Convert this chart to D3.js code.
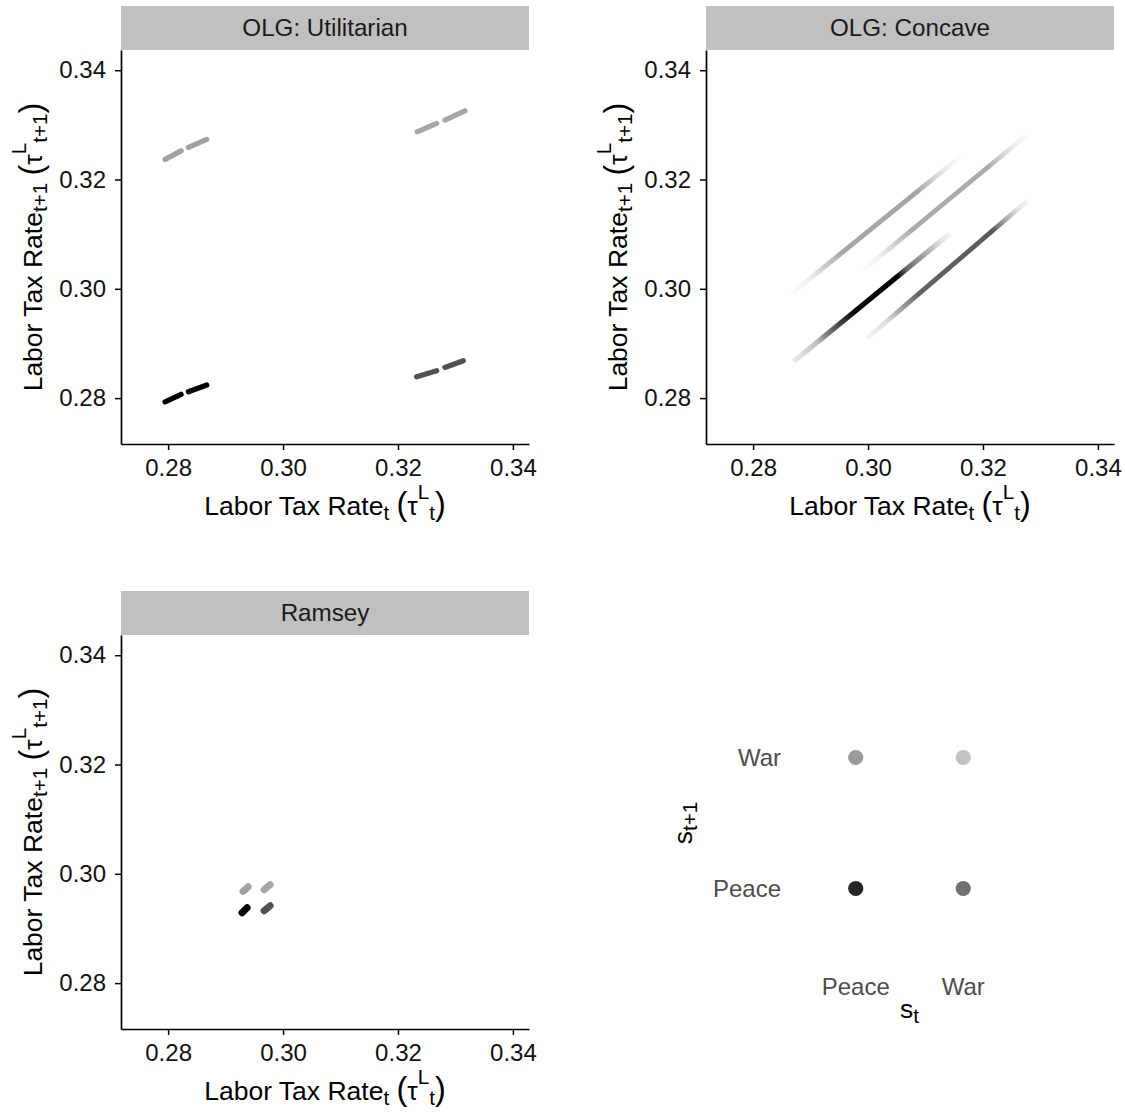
<!DOCTYPE html>
<html><head><meta charset="utf-8">
<script src="https://cdn.jsdelivr.net/npm/d3@7"></script>
<style>
body{margin:0;background:#fff}
svg{display:block}
text{font-family:"Liberation Sans",Arial,Helvetica,sans-serif;white-space:pre}
</style>
</head><body><script>
// ---------------- data ----------------
const states = ["Peace", "War"];
const transitionKeys = ["PP", "PW", "WP", "WW"];           // s_t -> s_t+1
const transitionFrom = {PP: "Peace", PW: "Peace", WP: "War", WW: "War"};
const transitionTo   = {PP: "Peace", PW: "War",   WP: "Peace", WW: "War"};
const panelTitles = ["OLG: Utilitarian", "OLG: Concave", "Ramsey"];
const xTickValues = [0.28, 0.30, 0.32, 0.34];
const yTickValues = [0.28, 0.30, 0.32, 0.34];
const xDomain = [0.2718, 0.3428];
const yDomain = [0.2716, 0.3437];

// OLG utilitarian: short dashes of simulated (tau_t, tau_t+1) pairs
const utilitarianKey = ["PP", "PP", "PW", "PW", "WW", "WW", "WP", "WP"];
const utilitarianX1 = [0.27948, 0.28353, 0.27948, 0.28353, 0.32336, 0.32817, 0.32325, 0.32817];
const utilitarianY1 = [0.27932, 0.28115, 0.32368, 0.32587, 0.32873, 0.33087, 0.28390, 0.28562];
const utilitarianX2 = [0.28226, 0.28673, 0.28226, 0.28673, 0.32673, 0.33165, 0.32673, 0.33136];
const utilitarianY2 = [0.28068, 0.28238, 0.32525, 0.32734, 0.33027, 0.33257, 0.28500, 0.28683];

// OLG concave: long bands with a density profile along them
const concaveKey = ["PW", "WW", "PP", "WP"];
const concaveX1 = [0.28673, 0.29918, 0.28701, 0.29977];
const concaveY1 = [0.29916, 0.30342, 0.28664, 0.29092];
const concaveX2 = [0.31600, 0.32760, 0.31426, 0.32788];
const concaveY2 = [0.32415, 0.32813, 0.31014, 0.31623];
const concaveDensity = [
  [[0,0.05],[0.1,0.15],[0.2,0.5],[0.3,0.85],[0.75,0.85],[0.85,0.4],[0.93,0.15],[1,0.04]],
  [[0,0.05],[0.1,0.15],[0.2,0.5],[0.3,0.85],[0.76,0.85],[0.86,0.4],[0.94,0.15],[1,0.04]],
  [[0,0.08],[0.15,0.25],[0.21,0.5],[0.34,0.85],[0.4,1],[0.66,1],[0.72,0.6],[0.85,0.32],[0.94,0.12],[1,0.04]],
  [[0,0.05],[0.12,0.18],[0.2,0.45],[0.32,0.85],[0.78,0.9],[0.86,0.45],[0.94,0.15],[1,0.04]]
];

// Ramsey: tiny clusters
const ramseyKey = ["PP", "PW", "WW", "WP"];
const ramseyX1 = [0.29287, 0.29304, 0.29670, 0.29670];
const ramseyY1 = [0.29286, 0.29680, 0.29707, 0.29323];
const ramseyX2 = [0.29374, 0.29391, 0.29774, 0.29774];
const ramseyY2 = [0.29378, 0.29762, 0.29799, 0.29414];

// ---------------- styles ----------------
const markColor    = {PP: "#000000", PW: "#a2a2a2", WP: "#525252", WW: "#a6a6a6"};
const concaveColor = {PP: "#000000", PW: "#969696", WP: "#474747", WW: "#9c9c9c"};
const legendColor  = {PP: "#262626", PW: "#9a9a9a", WP: "#707070", WW: "#c3c3c3"};
const FONT_TICK = 24, FONT_TITLE = 26.5, FONT_STRIP = 24.2, FONT_LEG = 24;

const W = 1125, H = 1114;
const svg = d3.select("body").append("svg").attr("width", W).attr("height", H);
const defs = svg.append("defs");

const PW_ = 408, PH_ = 394;
const panels = [
  {left: 121, top: 50},
  {left: 706, top: 50},
  {left: 121, top: 635}
];

function rich(sel, parts, size) {
  const small = size * 0.78;
  let cur = 0;
  parts.forEach(p => {
    const target = p.pos === "sub" ? size * 0.2 : p.pos === "sup" ? -size * 0.62 : 0;
    const fs = p.pos ? small : p.big ? size * 1.22 : size;
    sel.append("tspan").attr("dy", target - cur).style("font-size", fs + "px").text(p.t);
    cur = target;
  });
}
const xTitleParts = [{t: "Labor Tax Rate"}, {t: "t", pos: "sub"}, {t: " "}, {t: "(", big: true}, {t: "τ"}, {t: "L", pos: "sup"}, {t: "t", pos: "sub"}, {t: ")", big: true}];
const yTitleParts = [{t: "Labor Tax Rate"}, {t: "t+1", pos: "sub"}, {t: " "}, {t: "(", big: true}, {t: "τ"}, {t: "L", pos: "sup"}, {t: "t+1", pos: "sub"}, {t: ")", big: true}];

panels.forEach((p, i) => {
  const g = svg.append("g").attr("transform", `translate(${p.left},${p.top})`);
  const x = d3.scaleLinear().domain(xDomain).range([0, PW_]);
  const y = d3.scaleLinear().domain(yDomain).range([PH_, 0]);
  p.x = x; p.y = y; p.g = g;

  // strip
  g.append("rect").attr("x", 0).attr("y", -44).attr("width", PW_).attr("height", 44).attr("fill", "#c0c0c0");
  g.append("text").attr("x", PW_ / 2).attr("y", -14).attr("text-anchor", "middle")
    .style("font-size", FONT_STRIP + "px").attr("fill", "#1a1a1a").text(panelTitles[i]);

  // axes
  const ax = g.append("g").attr("transform", `translate(0,${PH_})`)
    .call(d3.axisBottom(x).tickValues(xTickValues).tickFormat(d3.format(".2f")).tickSize(6).tickSizeOuter(0).tickPadding(9));
  const ay = g.append("g")
    .call(d3.axisLeft(y).tickValues(yTickValues).tickFormat(d3.format(".2f")).tickSize(6).tickSizeOuter(0).tickPadding(9));
  [ax, ay].forEach(a => {
    a.select(".domain").attr("stroke", "#000").attr("stroke-width", 1.7);
    a.selectAll(".tick line").attr("stroke", "#000").attr("stroke-width", 1.5);
    a.selectAll(".tick text").attr("fill", "#111").style("font-size", FONT_TICK + "px").style("font-family", '"Liberation Sans",Arial,sans-serif');
  });

  // titles
  const xt = g.append("text").attr("x", PW_ / 2).attr("y", PH_ + 71).attr("text-anchor", "middle").attr("fill", "#000");
  rich(xt, xTitleParts, FONT_TITLE);
  const yt = g.append("text").attr("transform", `translate(-79,${PH_ / 2}) rotate(-90)`).attr("text-anchor", "middle").attr("fill", "#000");
  rich(yt, yTitleParts, FONT_TITLE);
});

// ---- Panel 1: utilitarian dashes
{
  const {g, x, y} = panels[0];
  g.selectAll("line.mark").data(d3.range(utilitarianKey.length)).join("line").attr("class", "mark")
    .attr("x1", i => x(utilitarianX1[i])).attr("y1", i => y(utilitarianY1[i]))
    .attr("x2", i => x(utilitarianX2[i])).attr("y2", i => y(utilitarianY2[i]))
    .attr("stroke", i => markColor[utilitarianKey[i]]).attr("stroke-width", 5.3).attr("stroke-linecap", "round");
}

// ---- Panel 2: concave bands (drawn in root coordinates so gradients line up)
{
  const {x, y, left, top} = panels[1];
  const X = v => x(v) + left, Y = v => y(v) + top;
  concaveKey.forEach((k, i) => {
    const gr = defs.append("linearGradient").attr("id", "grad" + i).attr("gradientUnits", "userSpaceOnUse")
      .attr("x1", X(concaveX1[i])).attr("y1", Y(concaveY1[i]))
      .attr("x2", X(concaveX2[i])).attr("y2", Y(concaveY2[i]));
    concaveDensity[i].forEach(([t, d]) => {
      gr.append("stop").attr("offset", t).attr("stop-color", concaveColor[k]).attr("stop-opacity", d);
    });
  });
  svg.append("g").selectAll("line").data(d3.range(concaveKey.length)).join("line")
    .attr("x1", i => X(concaveX1[i])).attr("y1", i => Y(concaveY1[i]))
    .attr("x2", i => X(concaveX2[i])).attr("y2", i => Y(concaveY2[i]))
    .attr("stroke", i => `url(#grad${i})`).attr("stroke-width", i => concaveKey[i] === "PP" ? 5.2 : 4.8)
    .attr("stroke-linecap", "butt");
}

// ---- Panel 3: Ramsey
{
  const {g, x, y} = panels[2];
  g.selectAll("line.mark").data(d3.range(ramseyKey.length)).join("line").attr("class", "mark")
    .attr("x1", i => x(ramseyX1[i])).attr("y1", i => y(ramseyY1[i]))
    .attr("x2", i => x(ramseyX2[i])).attr("y2", i => y(ramseyY2[i]))
    .attr("stroke", i => markColor[ramseyKey[i]]).attr("stroke-width", 7).attr("stroke-linecap", "round");
}

// ---- Legend plot (bottom right)
{
  const lx = d3.scalePoint().domain(states).range([802, 1017]).padding(0.5);
  const ly = d3.scalePoint().domain(states).range([954, 692]).padding(0.5);
  const lg = svg.append("g");
  lg.selectAll("circle").data(transitionKeys).join("circle")
    .attr("cx", k => lx(transitionFrom[k])).attr("cy", k => ly(transitionTo[k]))
    .attr("r", 7.6).attr("fill", k => legendColor[k]);
  lg.selectAll("text.xl").data(states).join("text").attr("class", "xl")
    .attr("x", d => lx(d)).attr("y", 995).attr("text-anchor", "middle")
    .attr("fill", "#4d4d4d").style("font-size", FONT_LEG + "px").text(d => d);
  lg.selectAll("text.yl").data(states).join("text").attr("class", "yl")
    .attr("x", 781).attr("y", d => ly(d) + 8.5).attr("text-anchor", "end")
    .attr("fill", "#4d4d4d").style("font-size", FONT_LEG + "px").text(d => d);
  const st = lg.append("text").attr("x", (lx("Peace") + lx("War")) / 2).attr("y", 1018).attr("text-anchor", "middle").attr("fill", "#000");
  rich(st, [{t: "s"}, {t: "t", pos: "sub"}], FONT_TITLE);
  const st1 = lg.append("text").attr("transform", `translate(692,${(ly("Peace") + ly("War")) / 2}) rotate(-90)`).attr("text-anchor", "middle").attr("fill", "#000");
  rich(st1, [{t: "s"}, {t: "t+1", pos: "sub"}], FONT_TITLE);
}
</script></body></html>
